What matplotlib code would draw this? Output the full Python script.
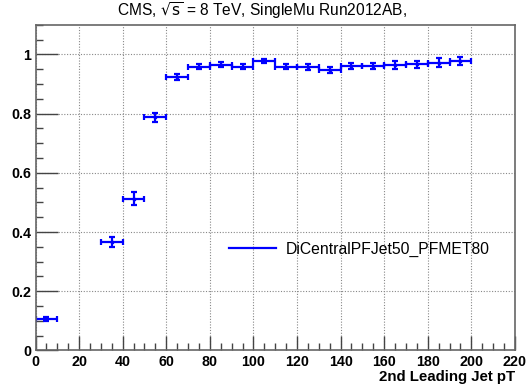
import numpy as np
import matplotlib
matplotlib.use("Agg")
import matplotlib.pyplot as plt
from matplotlib.ticker import MultipleLocator
from matplotlib.lines import Line2D

plt.rcParams['font.family'] = ['Liberation Sans', 'DejaVu Sans']

# bin centres / half widths (GeV) and efficiency values
pt = [5, 35, 45, 55, 65, 75, 85, 95, 105, 115, 125, 135, 145, 155, 165, 175, 185, 195]
pt_err = [5] * len(pt)
eff = [0.106, 0.367, 0.513, 0.787, 0.922, 0.958, 0.965, 0.958, 0.977, 0.958,
       0.958, 0.947, 0.961, 0.961, 0.963, 0.966, 0.972, 0.977]
eff_err = [0.006, 0.017, 0.021, 0.015, 0.010, 0.009, 0.009, 0.008, 0.007, 0.009,
           0.010, 0.011, 0.010, 0.011, 0.013, 0.013, 0.014, 0.014]

fig = plt.figure(figsize=(5.27, 3.89), dpi=100)
ax = fig.add_axes([0.0674, 0.099, 0.9096, 0.8375])

ax.errorbar(pt, eff, xerr=pt_err, yerr=eff_err, fmt='s', color='#0000ff',
            ms=2, lw=1.6, capsize=2.2, capthick=1.6)

ax.set_xlim(0, 220)
ax.set_ylim(0, 1.1)
ax.xaxis.set_major_locator(MultipleLocator(20))
ax.xaxis.set_minor_locator(MultipleLocator(5))
ax.yaxis.set_minor_locator(MultipleLocator(0.05))
ax.set_yticks([0, 0.2, 0.4, 0.6, 0.8, 1])
ax.set_yticklabels(['0', '0.2', '0.4', '0.6', '0.8', '1'])

ax.grid(True, which='major', color='#888888', linestyle=(0, (1, 1.5)), lw=0.8)
ax.tick_params(which='major', direction='in', length=10, width=1, color='#444444',
               labelsize=10.3, pad=3)
ax.tick_params(axis='y', which='major', length=16)
ax.tick_params(which='minor', direction='in', length=5, width=1, color='#444444')
for lab in ax.get_xticklabels() + ax.get_yticklabels():
    lab.set_fontweight('bold')
for s in ax.spines.values():
    s.set_color('#666666')
    s.set_linewidth(1.2)

ax.set_xlabel('2nd Leading Jet pT', fontsize=10.8, fontweight='bold', loc='right', labelpad=1)
fig.text(0.497, 0.972, r'CMS, $\sqrt{\mathrm{s}}$ = 8 TeV, SingleMu Run2012AB,',
         ha='center', va='center', fontsize=11.2)

handle = Line2D([], [], color='#0000ff', lw=1.6)
ax.legend([handle], ['DiCentralPFJet50_PFMET80'], loc='center left',
          bbox_to_anchor=(0.375, 0.31), frameon=False,
          fontsize=11.3, handlelength=3.0, handletextpad=0.6)

fig.savefig('out.png', dpi=100)
